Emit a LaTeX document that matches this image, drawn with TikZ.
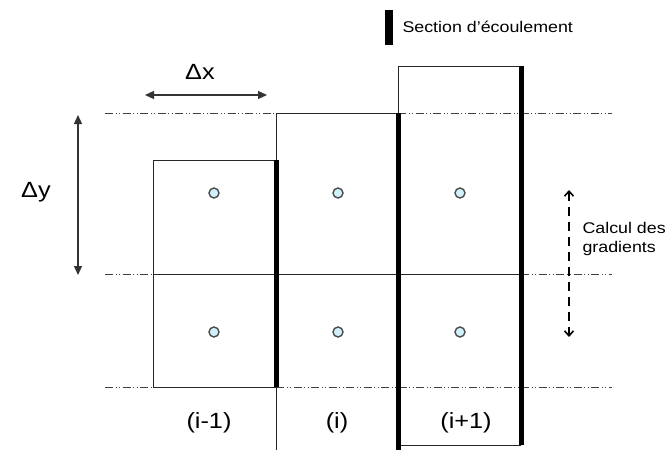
\documentclass[tikz,border=0pt]{standalone}
\usepackage{fontspec}
\setmainfont{Liberation Sans}[FakeStretch=1.15]
\usetikzlibrary{arrows.meta, positioning, calc}

\begin{document}
\begin{tikzpicture}[x=1pt, y=-1pt,
    grille/.style={line width=0.8pt, black!75,
      dash pattern=on 8pt off 2.5pt on 1pt off 2.5pt on 1pt off 2.5pt},
    bord/.style={line width=0.9pt, black!85},
    section/.style={line width=5pt, black},
    centre/.style={circle, draw=black!70, fill=cyan!18, line width=1.4pt,
      minimum size=10pt, inner sep=0pt},
    etiquette/.style={font=\fontsize{22}{24}\selectfont},
    legende/.style={font=\fontsize{15.5}{18.5}\selectfont},
    fleche/.style={line width=1.3pt, black!80,
      {Triangle[length=9pt, width=8pt]}-{Triangle[length=9pt, width=8pt]}}]
  \useasboundingbox (0,0) rectangle (665,450);

  % coins des mailles
  \coordinate (g0) at (153,160);
  \coordinate (g1) at (276,113);
  \coordinate (g2) at (398,66);
  \coordinate (d2) at (521,66);

  % lignes de grille
  \draw[grille] (105,113) -- (g1);
  \draw[grille] (g1 -| g2) -- (612,113);
  \draw[grille] (105,274) -- (153,274);
  \draw[bord] (153,274) -- (521,274);
  \draw[grille] (521,274) -- (612,274);
  \draw[grille] (105,387) -- (153,387);
  \draw[grille] (276,387) -- (612,387);

  % mailles
  \draw[bord] (276,160) -- (g0) -- (153,387) -- (276,387);
  \draw[bord] (276,450) -- (g1) -- (398,113);
  \draw[bord] (398,113) -- (g2) -- (d2);
  \draw[bord] (398,445) -- (521,445);

  % sections d'ecoulement
  \draw[section] (276,160) -- (276,387);
  \draw[section] (398,113) -- (398,450);
  \draw[section] (d2) -- (521,445);

  % centres
  \foreach \cx/\nom in {214/a, 338/b, 460/c} {
    \node[centre] (\nom h) at (\cx,193) {};
    \node[centre] (\nom b) at (\cx,332) {};
  }

  % indices
  \node[etiquette] (im) at (209,423) {(i-1)};
  \node[etiquette] (i0) at (337,423) {(i)};
  \node[etiquette] (ip) at (466,423) {(i+1)};

  % pas d'espace
  \coordinate (dxa) at (145,95);
  \coordinate (dxb) at (267,95);
  \draw[fleche] (dxa) -- (dxb);
  \node[etiquette] (dx) at (200,72) {Δx};
  \coordinate (dya) at (78,115);
  \coordinate (dyb) at (78,275);
  \draw[fleche] (dya) -- (dyb);
  \node[etiquette] (dy) at (36,192) {Δy};

  % gradients
  \coordinate (gra) at (569,190);
  \coordinate (grb) at (569,337);
  \draw[line width=1.6pt, dash pattern=on 9pt off 6pt,
    {Straight Barb[length=5pt, width=9pt]}-{Straight Barb[length=5pt, width=9pt]}]
    (gra) -- (grb);
  \node[legende, anchor=west, align=left] (grad) at (579,239)
    {Calcul des\\gradients};

  % legende
  \draw[line width=8pt] (389,10) -- (389,45);
  \node[legende, anchor=west] (sect) at (399,27) {Section d'écoulement};
\end{tikzpicture}
\end{document}
